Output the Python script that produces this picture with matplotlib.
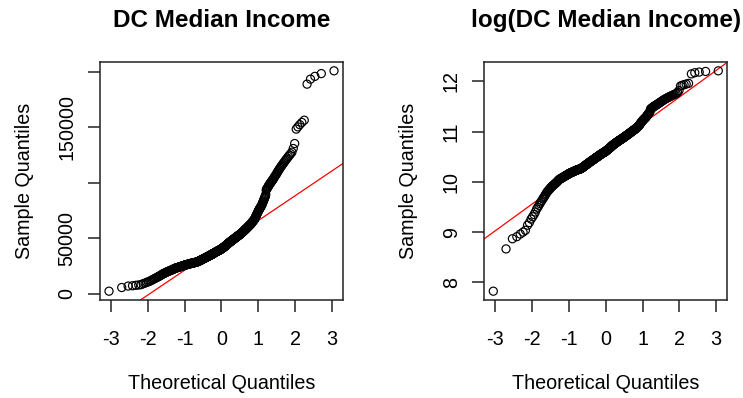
from statistics import NormalDist

import numpy as np
import matplotlib
matplotlib.use("Agg")
import matplotlib.pyplot as plt

# median household income per block group, thousands of dollars, sorted
income_k = [
    2.5, 5.8, 7.1, 7.4, 7.8, 8.1, 8.4, 9.3, 9.8, 10.5, 11.0,
    11.5, 12.1, 12.8, 13.3, 13.8, 14.3, 14.8, 15.2, 15.7, 16.1,
    16.5, 17.0, 17.4, 17.9, 18.2, 18.5, 18.8, 19.1, 19.4,
    19.7, 19.9, 20.2, 20.4, 20.6, 20.8, 21.0,
    21.2, 21.4, 21.6, 21.8, 22.0, 22.2, 22.5, 22.7, 22.9, 23.1, 23.3,
    23.4, 23.5, 23.6, 23.7, 23.8, 24.0, 24.1, 24.2, 24.3, 24.4, 24.5, 24.6,
    24.8, 24.9, 25.0, 25.1, 25.2, 25.3, 25.4, 25.5, 25.6, 25.7, 25.9, 26.0,
    26.1, 26.1, 26.2, 26.3, 26.4, 26.5, 26.5, 26.6, 26.7, 26.8, 26.8, 26.9,
    27.0, 27.1, 27.1, 27.2, 27.3, 27.4, 27.4, 27.5, 27.6, 27.7, 27.7, 27.8,
    27.9, 27.9, 28.0, 28.0, 28.1, 28.1, 28.2, 28.2, 28.3, 28.3, 28.4, 28.4,
    28.5, 28.5, 28.6, 28.6, 28.7,
    28.8, 28.9, 29.0, 29.1, 29.2, 29.3, 29.4, 29.5, 29.6, 29.7, 29.9, 30.0,
    30.1, 30.2, 30.3, 30.4, 30.5, 30.6, 30.7, 30.8, 30.9, 31.1, 31.2, 31.3,
    31.4, 31.5,
    31.6, 31.7, 31.8, 31.9, 32.0, 32.1, 32.2, 32.3, 32.4, 32.5, 32.7, 32.8,
    32.9, 33.0, 33.1, 33.2, 33.3, 33.4, 33.5, 33.6, 33.7, 33.8, 33.9, 34.0,
    34.1, 34.2, 34.3, 34.4, 34.5, 34.6, 34.7, 34.8, 35.0,
    35.1, 35.2, 35.3, 35.4, 35.5, 35.6, 35.7, 35.8, 35.9, 36.0, 36.1, 36.2,
    36.4, 36.5, 36.6, 36.7, 36.8, 36.9, 37.0, 37.1, 37.2, 37.3, 37.4, 37.5,
    37.7, 37.8, 37.9, 38.0, 38.1, 38.2, 38.3, 38.4, 38.5, 38.6, 38.7,
    38.8, 38.9, 39.0, 39.1, 39.2, 39.3, 39.4, 39.5, 39.6, 39.7, 39.8, 39.9,
    40.0, 40.1, 40.2, 40.3, 40.4, 40.5,
    40.6, 40.8, 40.9, 41.1, 41.2, 41.3, 41.5, 41.6, 41.8, 41.9, 42.0, 42.2,
    42.3, 42.5, 42.6, 42.7, 42.9, 43.0,
    43.2, 43.3, 43.5, 43.7, 43.8, 44.0, 44.2, 44.3, 44.5, 44.7, 44.8, 45.0,
    45.2, 45.3, 45.5, 45.7, 45.8, 46.0,
    46.1, 46.3, 46.4, 46.6, 46.7, 46.9, 47.0, 47.2, 47.3, 47.5, 47.6, 47.8,
    47.9, 48.1, 48.2, 48.4, 48.5,
    48.6, 48.8, 48.9, 49.1, 49.2, 49.4, 49.5, 49.7, 49.8, 50.0, 50.1, 50.3,
    50.4, 50.6, 50.7, 50.9, 51.0,
    51.2, 51.3, 51.5, 51.6, 51.8, 51.9, 52.1, 52.3, 52.4, 52.6, 52.7, 52.9,
    53.0, 53.2, 53.3, 53.5,
    53.7, 53.9, 54.1, 54.2, 54.4, 54.6, 54.8, 55.0, 55.2, 55.4, 55.6, 55.8,
    55.9, 56.1, 56.3, 56.5,
    56.7, 56.9, 57.2, 57.4, 57.6, 57.8, 58.0, 58.2, 58.5, 58.7, 58.9,
    59.1, 59.4, 59.6, 59.9, 60.1, 60.3, 60.6, 60.8, 61.1, 61.3, 61.6, 61.8,
    62.0, 62.3, 62.5, 62.8, 63.0,
    63.3, 63.7, 64.0, 64.4, 64.7, 65.1, 65.4, 65.8, 66.1, 66.5, 66.8, 67.2,
    67.5,
    68.1, 68.8, 69.4, 70.0, 70.7, 71.3, 71.9, 72.6, 73.2, 73.9, 74.5,
    75.1, 75.6, 76.2, 76.7, 77.3, 77.8, 78.4, 78.9, 79.5, 80.0,
    80.9, 81.8, 82.7, 83.6, 84.5, 85.4, 86.3, 87.2, 88.1, 89.5,
    93.5, 94.5, 95.0, 95.5, 96.4, 97.1, 97.8, 98.5,
    99.1, 99.8, 100.4, 101.1, 101.7, 102.4, 103.0,
    103.8, 104.7, 105.5, 106.3, 107.2, 108.0,
    109.0, 110.0, 111.0, 112.0, 113.0,
    114.0, 115.0, 116.0, 117.0, 118.0,
    119.1, 120.3, 121.4, 122.5,
    123.8, 125.0, 126.3, 127.7, 131.0, 135.5,
    148.5, 150.5, 152.5, 154.5, 156.5,
    189.0, 193.5, 196.0, 198.5, 201.0,
]

titles = ["DC Median Income", "log(DC Median Income)"]
x_ticks = [-3, -2, -1, 0, 1, 2, 3]
income_ticks = [0, 50000, 100000, 150000, 200000]
income_tick_labels = ["0", "50000", "", "150000", ""]
log_ticks = [8, 9, 10, 11, 12]

plt.rcParams["font.family"] = ["Liberation Sans", "DejaVu Sans"]


def ppoints(n):
    a = 3 / 8 if n <= 10 else 0.5
    return (np.arange(1, n + 1) - a) / (n + 1 - 2 * a)


def qqplot(ax, y, title):
    y = np.sort(np.asarray(y, dtype=float))
    nd = NormalDist()
    x = np.array([nd.inv_cdf(p) for p in ppoints(len(y))])

    ax.scatter(x, y, s=34, facecolors="none", edgecolors="black", linewidths=0.85, zorder=3)

    # qqline through the first and third quartiles
    yq = np.percentile(y, [25, 75])
    xq = np.array([nd.inv_cdf(0.25), nd.inv_cdf(0.75)])
    slope = (yq[1] - yq[0]) / (xq[1] - xq[0])
    icpt = yq[0] - slope * xq[0]
    ax.margins(x=0.04, y=0.04)
    ax.axline((0, icpt), slope=slope, color="red", lw=0.9, zorder=2)

    ax.set_title(title, fontsize=17.5, fontweight="bold", pad=25)
    ax.set_xlabel("Theoretical Quantiles", fontsize=14.2)
    ax.set_ylabel("Sample Quantiles", fontsize=14.2)
    ax.set_xticks(x_ticks)
    ax.set_xticklabels([str(t) for t in x_ticks])
    ax.tick_params(axis="both", direction="out", length=8.4, width=1.1, labelsize=14.2, color="#222222")
    ax.tick_params(axis="x", pad=13.3)
    ax.tick_params(axis="y", pad=8.5, labelrotation=90)
    for sp in ax.spines.values():
        sp.set_linewidth(1.1)
        sp.set_color("#222222")
    ax.xaxis.set_label_coords(0.5, -0.35)
    ax.xaxis.label.set_va("center")
    ax.yaxis.label.set_va("center")


def main() -> None:
    income = np.array(income_k) * 1000
    fig = plt.figure(figsize=(7.43, 3.98), dpi=100)
    ax1 = fig.add_axes([100 / 743, 1 - 300 / 398, 243 / 743, 238 / 398])
    ax2 = fig.add_axes([484.3 / 743, 1 - 300 / 398, 243 / 743, 238 / 398])

    qqplot(ax1, income, titles[0])
    ax1.set_yticks(income_ticks)
    ax1.set_yticklabels(income_tick_labels)
    ax1.yaxis.set_label_coords(-0.312, 0.5)

    qqplot(ax2, np.log(income), titles[1])
    ax2.set_yticks(log_ticks)
    ax2.set_yticklabels([str(t) for t in log_ticks])
    ax2.yaxis.set_label_coords(-0.311, 0.5)

    for ax in (ax1, ax2):
        for lbl in ax.get_yticklabels():
            lbl.set_va("center")

    fig.savefig("out.png", dpi=100)
    plt.close(fig)


if __name__ == "__main__":
    main()
